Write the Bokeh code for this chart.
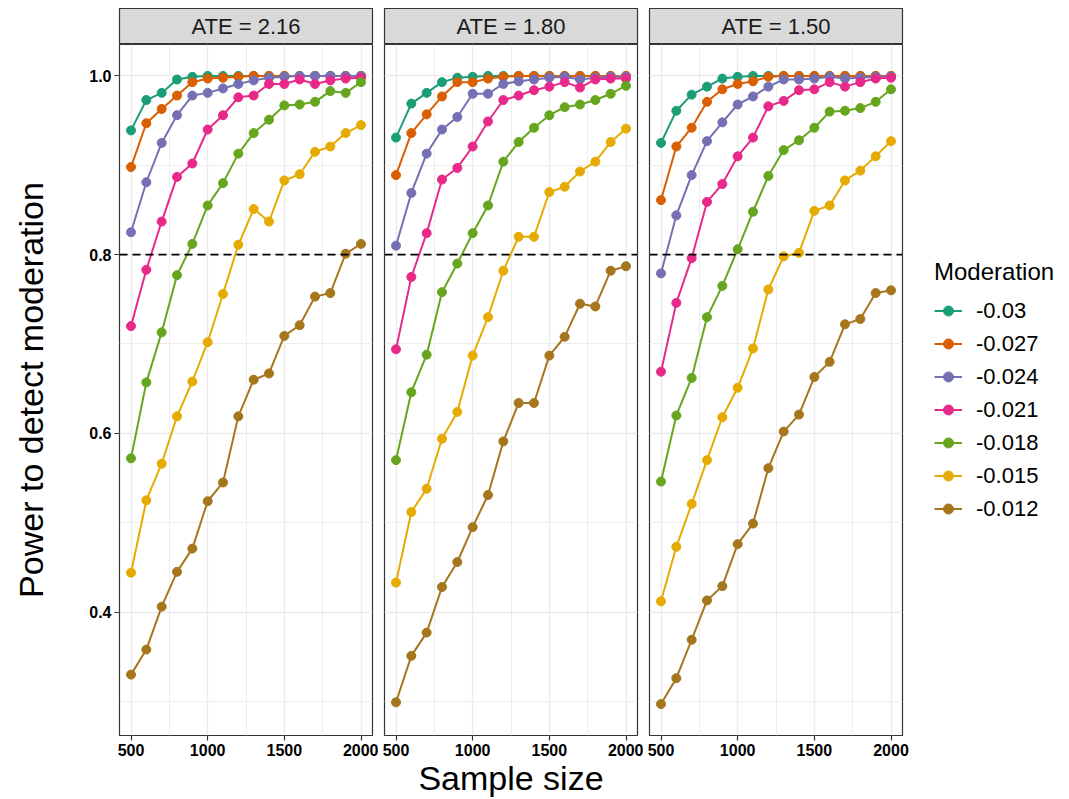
from bokeh.plotting import figure
from bokeh.layouts import row, column
from bokeh.models import Range1d, FixedTicker, Span, Legend, LegendItem, Label, NumeralTickFormatter
from bokeh.embed import file_html
from bokeh.resources import INLINE

# ---------------- data ----------------
sample_size = [500, 600, 700, 800, 900, 1000, 1100, 1200, 1300, 1400, 1500, 1600, 1700, 1800, 1900, 2000]
moderation = ["-0.03", "-0.027", "-0.024", "-0.021", "-0.018", "-0.015", "-0.012"]
ate_labels = ["ATE = 2.16", "ATE = 1.80", "ATE = 1.50"]
colors = ["#1B9E77", "#D95F02", "#7570B3", "#E7298A", "#66A61E", "#E6AB02", "#A6761D"]
x_ticks = [500, 1000, 1500, 2000]
x_minor = [750, 1250, 1750]
y_ticks = [0.4, 0.6, 0.8, 1.0]
y_minor = [0.3, 0.5, 0.7, 0.9]
threshold = 0.8

# ATE = 2.16
ate216_m030 = [0.939, 0.973, 0.981, 0.996, 0.999, 1.0, 1.0, 1.0, 1.0, 1.0, 1.0, 1.0, 1.0, 1.0, 1.0, 1.0]
ate216_m027 = [0.898, 0.947, 0.963, 0.978, 0.993, 0.997, 0.998, 0.999, 1.0, 1.0, 1.0, 1.0, 1.0, 1.0, 1.0, 1.0]
ate216_m024 = [0.825, 0.881, 0.925, 0.956, 0.978, 0.981, 0.986, 0.991, 0.995, 0.998, 0.999, 1.0, 1.0, 1.0, 1.0, 1.0]
ate216_m021 = [0.720, 0.783, 0.837, 0.887, 0.902, 0.940, 0.956, 0.976, 0.978, 0.991, 0.991, 0.996, 0.991, 0.995, 0.997, 0.998]
ate216_m018 = [0.572, 0.657, 0.713, 0.777, 0.812, 0.855, 0.880, 0.913, 0.936, 0.951, 0.967, 0.968, 0.971, 0.983, 0.981, 0.993]
ate216_m015 = [0.444, 0.525, 0.566, 0.619, 0.658, 0.702, 0.756, 0.811, 0.851, 0.837, 0.883, 0.890, 0.915, 0.921, 0.936, 0.945]
ate216_m012 = [0.330, 0.358, 0.406, 0.445, 0.471, 0.524, 0.545, 0.619, 0.660, 0.667, 0.709, 0.721, 0.753, 0.757, 0.801, 0.812]

# ATE = 1.80
ate180_m030 = [0.931, 0.969, 0.981, 0.993, 0.998, 0.999, 1.0, 1.0, 1.0, 1.0, 1.0, 1.0, 1.0, 1.0, 1.0, 1.0]
ate180_m027 = [0.889, 0.936, 0.957, 0.977, 0.993, 0.993, 0.997, 0.999, 1.0, 1.0, 1.0, 1.0, 1.0, 1.0, 1.0, 1.0]
ate180_m024 = [0.810, 0.869, 0.913, 0.940, 0.954, 0.980, 0.980, 0.991, 0.994, 0.996, 0.998, 0.999, 0.996, 0.998, 0.999, 0.999]
ate180_m021 = [0.694, 0.775, 0.824, 0.884, 0.897, 0.921, 0.949, 0.973, 0.978, 0.984, 0.988, 0.993, 0.987, 0.996, 0.997, 0.997]
ate180_m018 = [0.570, 0.646, 0.688, 0.758, 0.790, 0.824, 0.855, 0.904, 0.926, 0.942, 0.956, 0.965, 0.968, 0.973, 0.980, 0.989]
ate180_m015 = [0.433, 0.512, 0.538, 0.594, 0.624, 0.687, 0.730, 0.782, 0.820, 0.820, 0.870, 0.876, 0.893, 0.904, 0.926, 0.941]
ate180_m012 = [0.299, 0.351, 0.377, 0.428, 0.456, 0.495, 0.531, 0.591, 0.634, 0.634, 0.687, 0.708, 0.745, 0.742, 0.782, 0.787]

# ATE = 1.50
ate150_m030 = [0.925, 0.961, 0.979, 0.988, 0.997, 0.999, 1.0, 1.0, 1.0, 1.0, 1.0, 1.0, 1.0, 1.0, 1.0, 1.0]
ate150_m027 = [0.861, 0.921, 0.942, 0.971, 0.985, 0.991, 0.994, 0.999, 1.0, 1.0, 1.0, 1.0, 1.0, 1.0, 1.0, 1.0]
ate150_m024 = [0.779, 0.844, 0.889, 0.927, 0.948, 0.968, 0.977, 0.988, 0.996, 0.996, 0.997, 0.999, 0.997, 0.998, 0.999, 0.999]
ate150_m021 = [0.669, 0.746, 0.796, 0.859, 0.879, 0.910, 0.931, 0.966, 0.972, 0.984, 0.985, 0.993, 0.988, 0.993, 0.997, 0.998]
ate150_m018 = [0.546, 0.620, 0.662, 0.730, 0.765, 0.806, 0.848, 0.888, 0.917, 0.928, 0.942, 0.960, 0.961, 0.964, 0.971, 0.985]
ate150_m015 = [0.412, 0.473, 0.521, 0.570, 0.618, 0.651, 0.695, 0.761, 0.798, 0.802, 0.849, 0.855, 0.883, 0.894, 0.910, 0.927]
ate150_m012 = [0.297, 0.326, 0.369, 0.413, 0.429, 0.476, 0.499, 0.561, 0.602, 0.621, 0.663, 0.680, 0.722, 0.728, 0.757, 0.760]

panels = [
    [ate216_m030, ate216_m027, ate216_m024, ate216_m021, ate216_m018, ate216_m015, ate216_m012],
    [ate180_m030, ate180_m027, ate180_m024, ate180_m021, ate180_m018, ate180_m015, ate180_m012],
    [ate150_m030, ate150_m027, ate150_m024, ate150_m021, ate150_m018, ate150_m015, ate150_m012],
]

# ---------------- layout constants ----------------
FONT = "Liberation Sans"
FW, FH = 253, 691
LEFT, GAP, RIGHT = 119, 6, 167
TOP, STRIP_H, BOTTOM = 8, 36, 64
GRID = "#EBEBEB"
BORDER = "#333333"

all_vals = [v for panel in panels for s in panel for v in s]
ymin, ymax = min(all_vals), max(all_vals)
ypad = 0.05 * (ymax - ymin)
xmin, xmax = min(sample_size), max(sample_size)
xpad = 0.05 * (xmax - xmin)
x_range = Range1d(xmin - xpad, xmax + xpad)
y_range = Range1d(ymin - ypad, ymax + ypad)


def make_strip(i):
    s = figure(frame_width=FW, frame_height=STRIP_H,
               x_range=Range1d(0, 1), y_range=Range1d(0, 1),
               x_axis_location=None, y_axis_location=None,
               min_border_left=LEFT if i == 0 else GAP,
               min_border_right=RIGHT if i == 2 else GAP,
               min_border_top=TOP, min_border_bottom=0,
               toolbar_location=None, output_backend="svg",
               background_fill_color="#D9D9D9", border_fill_color="white")
    s.grid.visible = False
    s.outline_line_color = BORDER
    s.outline_line_width = 1.2
    s.add_layout(Label(x=0.5, y=0.5, text=ate_labels[i], text_align="center",
                       text_baseline="middle", text_font=FONT, text_font_size="22px",
                       text_color="#1A1A1A"))
    return s


def make_panel(i, series):
    p = figure(frame_width=FW, frame_height=FH, x_range=x_range, y_range=y_range,
               y_axis_location="left" if i == 0 else None,
               min_border_left=LEFT if i == 0 else GAP,
               min_border_right=RIGHT if i == 2 else GAP,
               min_border_top=0, min_border_bottom=BOTTOM,
               toolbar_location=None, output_backend="svg",
               background_fill_color="white", border_fill_color="white")
    p.outline_line_color = BORDER
    p.outline_line_width = 1.2

    xt = FixedTicker(ticks=x_ticks, minor_ticks=x_minor)
    yt = FixedTicker(ticks=y_ticks, minor_ticks=y_minor)
    p.xaxis.ticker = xt
    p.xgrid.ticker = xt
    p.ygrid.ticker = yt
    for g in (p.xgrid, p.ygrid):
        g.grid_line_color = GRID
        g.grid_line_width = 1.4
        g.minor_grid_line_color = GRID
        g.minor_grid_line_width = 0.9

    axes = [p.xaxis]
    if i == 0:
        p.yaxis.ticker = yt
        p.yaxis.formatter = NumeralTickFormatter(format="0.0")
        p.yaxis.axis_label = "Power to detect moderation"
        p.yaxis.axis_label_standoff = 36
        axes.append(p.yaxis)
    if i == 1:
        p.xaxis.axis_label = "Sample size"
    p.xaxis.axis_label_standoff = 0
    for ax in axes:
        ax.axis_line_color = None
        ax.major_tick_line_color = BORDER
        ax.major_tick_line_width = 1.2
        ax.major_tick_out = 5
        ax.major_tick_in = 0
        ax.minor_tick_line_color = None
        ax.major_label_text_font = FONT
        ax.major_label_text_font_style = "bold"
        ax.major_label_text_font_size = "16px"
        ax.major_label_text_color = "black"
        ax.major_label_standoff = 3
        ax.axis_label_text_font = FONT
        ax.axis_label_text_font_style = "normal"
        ax.axis_label_text_font_size = "34px"
        ax.axis_label_text_color = "black"

    items = []
    for name, vals, c in zip(moderation, series, colors):
        lr = p.line(sample_size, vals, line_color=c, line_width=2)
        sr = p.scatter(sample_size, vals, size=9, fill_color=c, line_color=c)
        items.append(LegendItem(label=name, renderers=[lr, sr]))

    p.add_layout(Span(location=threshold, dimension="width", line_color="black",
                      line_dash="8 5", line_width=1.6))

    if i == 2:
        legend = Legend(items=items, title="Moderation", location="center_left",
                        margin=32, padding=10, border_line_color=None,
                        background_fill_alpha=0,
                        title_text_font=FONT, title_text_font_size="24px",
                        title_text_font_style="normal", title_text_color="black",
                        title_standoff=12,
                        label_text_font=FONT, label_text_font_size="22px",
                        label_text_color="black",
                        label_height=25, glyph_height=25, glyph_width=28,
                        spacing=7, label_standoff=14)
        p.add_layout(legend, "right")
    return p


cols = []
for i in range(3):
    cols.append(column(make_strip(i), make_panel(i, panels[i]), spacing=0))
layout = row(*cols, spacing=0)

open("out.html", "w").write(file_html(layout, INLINE))
